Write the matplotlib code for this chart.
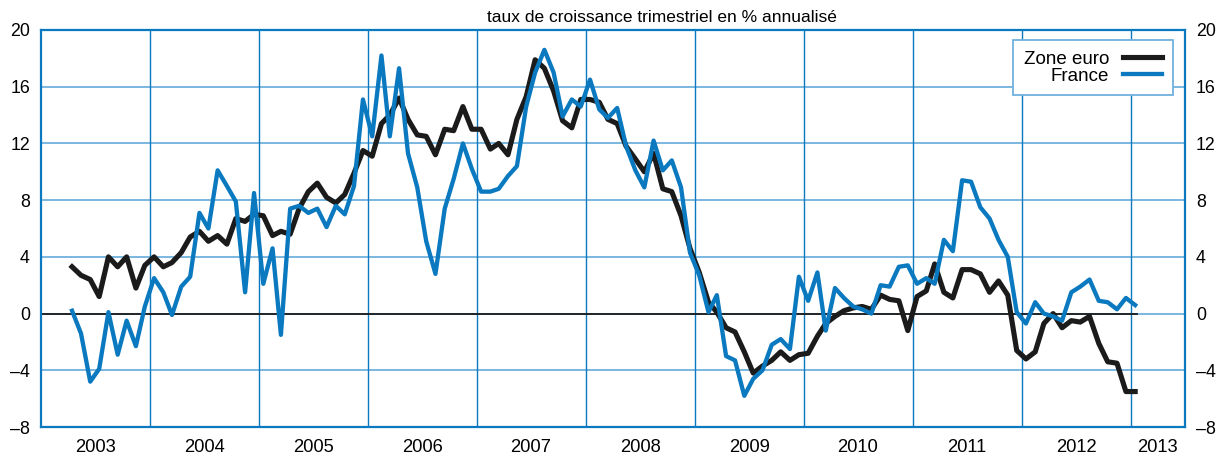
import numpy as np
import pandas as pd
import matplotlib
matplotlib.use("Agg")
import matplotlib.pyplot as plt
import matplotlib.dates as mdates

plt.rcParams['font.family'] = ['Liberation Sans', 'DejaVu Sans']

# Monthly points, April 2003 -> January 2013
start_month = "2003-04-01"
zone_euro = [
    3.3, 2.7, 2.4, 1.2, 4.0, 3.3, 4.0, 1.8, 3.4, 4.0, 3.3, 3.6, 4.3, 5.4, 5.8, 5.1, 5.5, 4.9, 6.7,
    6.5, 7.0, 6.9, 5.5, 5.8, 5.6, 7.4, 8.6, 9.2, 8.2, 7.8, 8.4, 9.9, 11.5, 11.1, 13.4, 14.0, 15.2, 13.7, 12.6, 12.5,
    11.2, 13.0, 12.9, 14.6, 13.0, 13.0, 11.6, 12.0, 11.2, 13.7, 15.3, 17.9, 17.3, 15.7, 13.6, 13.1, 15.1, 15.1, 14.9, 13.7, 13.4,
    11.8, 10.9, 10.0, 11.3, 8.8, 8.6, 6.9, 4.6, 2.9, 0.8, 0.1, -1.0, -1.3, -2.7, -4.2, -3.7, -3.3, -2.7, -3.3, -2.9, -2.8,
    -1.6, -0.7, -0.2, 0.2, 0.4, 0.5, 0.3, 1.3, 1.0, 0.9, -1.2, 1.2, 1.6, 3.5, 1.5, 1.1, 3.1, 3.1, 2.8, 1.5, 2.3,
    1.3, -2.6, -3.2, -2.7, -0.7, 0.0, -1.0, -0.5, -0.6, -0.2, -2.1, -3.4, -3.5, -5.5, -5.5,
]
france = [
    0.2, -1.4, -4.8, -3.9, 0.1, -2.9, -0.5, -2.3, 0.5, 2.5, 1.5, -0.1, 1.9, 2.6, 7.1, 6.0, 10.1, 9.0, 7.9,
    1.5, 8.5, 2.1, 4.6, -1.5, 7.4, 7.6, 7.1, 7.4, 6.1, 7.6, 7.0, 9.0, 15.1, 12.5, 18.2, 12.5, 17.3, 11.3, 8.9, 5.1,
    2.8, 7.4, 9.5, 12.0, 10.2, 8.6, 8.6, 8.8, 9.7, 10.4, 14.6, 17.0, 18.6, 17.0, 13.9, 15.1, 14.6, 16.5, 14.4, 13.8, 14.5,
    11.8, 10.1, 8.9, 12.2, 10.1, 10.8, 8.9, 4.3, 2.7, 0.1, 1.3, -3.0, -3.3, -5.8, -4.6, -4.0, -2.2, -1.8, -2.5, 2.6, 0.9,
    2.9, -1.2, 1.8, 1.1, 0.5, 0.3, 0.0, 2.0, 1.9, 3.3, 3.4, 2.1, 2.5, 2.1, 5.2, 4.4, 9.4, 9.3, 7.5, 6.7, 5.2,
    4.0, 0.1, -0.7, 0.8, 0.0, -0.2, -0.5, 1.5, 1.9, 2.4, 0.9, 0.8, 0.3, 1.1, 0.6,
]
years = list(range(2003, 2014))
y_ticks = [-8, -4, 0, 4, 8, 12, 16, 20]
title = "taux de croissance trimestriel en % annualisé"

dates = pd.date_range(start_month, periods=len(zone_euro), freq="MS") + pd.Timedelta(days=14)

BLUE = "#0a79bf"
LIGHT = "#6fb1dd"

fig = plt.figure(figsize=(12.19, 4.57), dpi=100)
ax = fig.add_axes([41 / 1219, 1 - 427 / 457, (1185 - 41) / 1219, (427 - 30) / 457])

x0 = pd.Timestamp("2003-01-01")
x1 = pd.Timestamp("2013-07-01")
ax.set_xlim(x0, x1)
ax.set_ylim(-8, 20)

# grid
for yv in y_ticks[1:-1]:
    ax.axhline(yv, color=LIGHT, lw=1.3, zorder=1)
for yr in years[1:]:
    ax.axvline(pd.Timestamp(f"{yr}-01-01"), color=BLUE, lw=1.0, zorder=1)

# zero line stops at the end of the data
n0, n1 = mdates.date2num(x0), mdates.date2num(x1)
xend = (mdates.date2num(dates[-1]) + 5 - n0) / (n1 - n0)
ax.axhline(0, xmin=0, xmax=xend, color="#1a1a1a", lw=1.3, zorder=2)

ax.plot(dates, zone_euro, color="#1b1b1b", lw=3.7, label="Zone euro", zorder=3,
        solid_joinstyle="round")
ax.plot(dates, france, color=BLUE, lw=3.1, label="France", zorder=4,
        solid_joinstyle="round")

for s in ax.spines.values():
    s.set_color(BLUE)
    s.set_linewidth(1.6)

ax.set_yticks(y_ticks)
ax.set_yticklabels([str(v).replace("-", "\u2013") for v in y_ticks])
ax.tick_params(axis="y", length=0, pad=8, labelsize=12.8, labelleft=True, labelright=True)

ax.set_xticks([pd.Timestamp(f"{yr}-01-01") for yr in years])
ax.set_xticklabels([])
label_pos = [pd.Timestamp(f"{yr}-07-01") for yr in years[:-1]] + [pd.Timestamp(f"{years[-1]}-04-01")]
ax.set_xticks(label_pos, minor=True)
ax.set_xticklabels([str(yr) for yr in years], minor=True)
ax.tick_params(axis="x", which="both", length=0, pad=9, labelsize=13.2)

fig.text(662 / 1219, 1 - 22 / 457, title, ha="center", va="baseline", fontsize=12.5)

leg = ax.legend(loc="upper right", bbox_to_anchor=(0.9893, 0.974), markerfirst=False,
                fontsize=13.5, frameon=True, fancybox=False, handlelength=2.1,
                handletextpad=0.75, labelspacing=0.0, borderpad=0.55, borderaxespad=0)
leg.get_frame().set_edgecolor(LIGHT)
leg.get_frame().set_linewidth(1.3)
leg.get_frame().set_alpha(1)

fig.savefig("out.png", dpi=100)
